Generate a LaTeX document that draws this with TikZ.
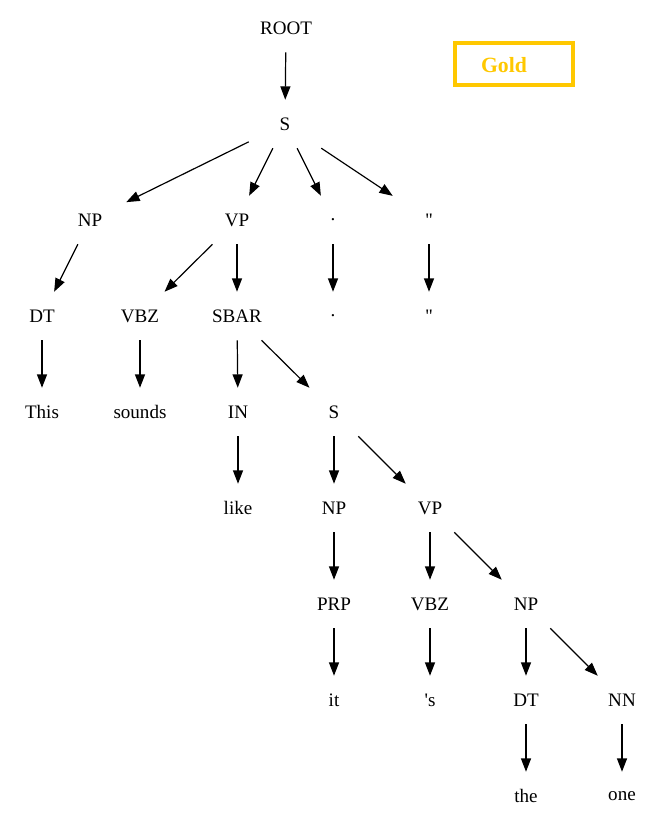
\documentclass[tikz,border=0pt]{standalone}
\usepackage{fontspec}
\setmainfont{Liberation Serif}[Ligatures=TeXOff]
\usetikzlibrary{arrows.meta}
\definecolor{goldc}{RGB}{255,200,0}
\begin{document}
\begin{tikzpicture}[x=0.75pt,y=-0.75pt,
  tok/.style={rectangle,minimum width=54pt,minimum height=36pt,inner sep=0pt,font=\fontsize{14.3}{16}\selectfont},
  edge/.style={draw=black,line width=0.9pt,-{Triangle[length=10pt,width=7.5pt]}},
  goldbox/.style={draw=goldc,line width=3pt,minimum width=88.5pt,minimum height=31.5pt,inner sep=0pt}]
\useasboundingbox (0,0) rectangle (664,827);
\node[goldbox] (gold) at (514,64.5) {};
\node[text=goldc,font=\fontsize{16.3}{18}\selectfont\bfseries] (goldt) at (504,65) {Gold};
\node[tok] (root) at (286,28) {ROOT};
\node[tok] (s1) at (285,124) {S};
\node[tok] (np1) at (90,220) {NP};
\node[tok] (vp1) at (237,220) {VP};
\node[tok] (dot1) at (333,220) {.};
\node[tok] (q1) at (429,220) {''};
\node[tok] (dt1) at (42,316) {DT};
\node[tok] (vbz1) at (140,316) {VBZ};
\node[tok] (sbar) at (237,316) {SBAR};
\node[tok] (dot2) at (333,316) {.};
\node[tok] (q2) at (429,316) {''};
\node[tok] (this) at (42,412) {This};
\node[tok] (sounds) at (140,412) {sounds};
\node[tok] (in) at (238,412) {IN};
\node[tok] (s2) at (334,412) {S};
\node[tok] (like) at (238,508) {like};
\node[tok] (np2) at (334,508) {NP};
\node[tok] (vp2) at (430,508) {VP};
\node[tok] (prp) at (334,604) {PRP};
\node[tok] (vbz2) at (430,604) {VBZ};
\node[tok] (np3) at (526,604) {NP};
\node[tok] (it) at (334,700) {it};
\node[tok] (aps) at (430,700) {'s};
\node[tok] (dt2) at (526,700) {DT};
\node[tok] (nn) at (622,700) {NN};
\node[tok] (the) at (526,796) {the};
\node[tok] (one) at (622,796) {one};
\draw[edge] (root) -- (s1);
\draw[edge] (s1) -- (np1);
\draw[edge] (s1) -- (vp1);
\draw[edge] (s1) -- (dot1);
\draw[edge] (s1) -- (q1);
\draw[edge] (np1) -- (dt1);
\draw[edge] (vp1) -- (vbz1);
\draw[edge] (vp1) -- (sbar);
\draw[edge] (dot1) -- (dot2);
\draw[edge] (q1) -- (q2);
\draw[edge] (dt1) -- (this);
\draw[edge] (vbz1) -- (sounds);
\draw[edge] (sbar) -- (in);
\draw[edge] (sbar) -- (s2);
\draw[edge] (in) -- (like);
\draw[edge] (s2) -- (np2);
\draw[edge] (s2) -- (vp2);
\draw[edge] (np2) -- (prp);
\draw[edge] (vp2) -- (vbz2);
\draw[edge] (vp2) -- (np3);
\draw[edge] (prp) -- (it);
\draw[edge] (vbz2) -- (aps);
\draw[edge] (np3) -- (dt2);
\draw[edge] (np3) -- (nn);
\draw[edge] (dt2) -- (the);
\draw[edge] (nn) -- (one);
\end{tikzpicture}
\end{document}
